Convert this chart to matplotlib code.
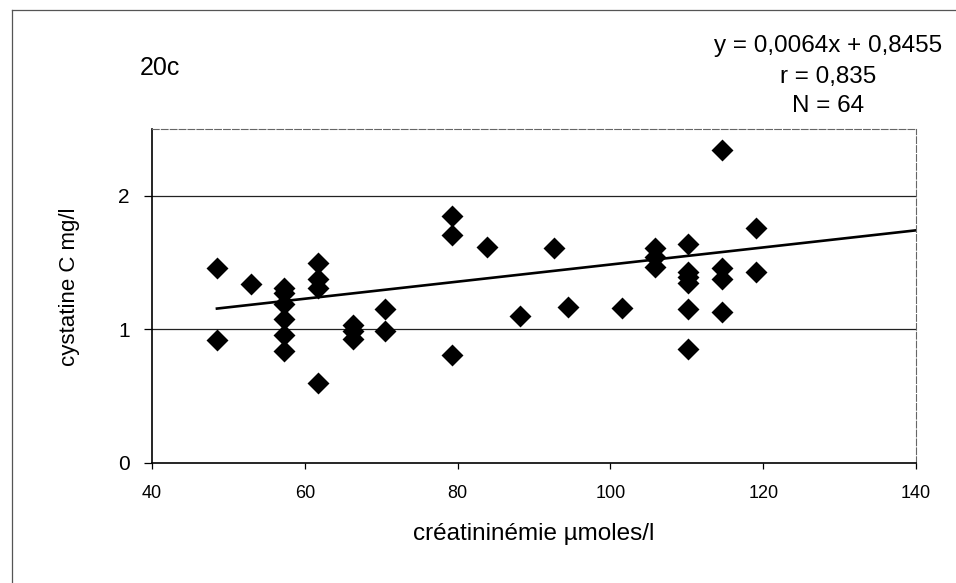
import matplotlib
matplotlib.use("Agg")
import matplotlib.pyplot as plt
from matplotlib.lines import Line2D
import numpy as np

plt.rcParams['font.family'] = ['Liberation Sans', 'DejaVu Sans']

# Data
creatinine = [48.5, 48.5, 52.9,
              57.3, 57.3, 57.3, 57.3, 57.3, 57.3,
              61.7, 61.7, 61.7, 61.7,
              66.3, 66.3, 66.3,
              70.5, 70.5,
              79.3, 79.3, 79.3,
              83.8, 88.2, 92.6, 94.4, 101.5,
              105.8, 105.8, 105.8,
              110.2, 110.2, 110.2, 110.2, 110.2, 110.2,
              114.6, 114.6, 114.6, 114.6,
              119.0, 119.0]
cystatin = [1.46, 0.92, 1.34,
            1.31, 1.27, 1.19, 1.08, 0.96, 0.84,
            1.50, 1.38, 1.31, 0.60,
            1.03, 0.99, 0.93,
            1.15, 0.99,
            1.85, 1.71, 0.81,
            1.62, 1.10, 1.61, 1.17, 1.16,
            1.61, 1.54, 1.47,
            1.64, 1.43, 1.39, 1.35, 1.15, 0.855,
            2.34, 1.46, 1.38, 1.13,
            1.76, 1.43]
slope = 0.0064
intercept = 0.8455
fit_x = [48.5, 140]
x_ticks = [40, 60, 80, 100, 120, 140]
y_ticks = [0, 1, 2]
eq_lines = ["y = 0,0064x + 0,8455", "r = 0,835", "N = 64"]
panel_label = "20c"
x_label = "créatininémie µmoles/l"
y_label = "cystatine C mg/l"

W, H = 956, 583
fig = plt.figure(figsize=(W / 100, H / 100), dpi=100)
ax = fig.add_axes([152 / W, 1 - 463 / H, (916 - 152) / W, (463 - 129) / H])

# outer chart frame (left and top edges visible)
fig.add_artist(Line2D([12 / W, 12 / W], [1 - 10 / H, 0], transform=fig.transFigure,
                      color='#555555', lw=0.9))
fig.add_artist(Line2D([12 / W, 1], [1 - 10 / H, 1 - 10 / H], transform=fig.transFigure,
                      color='#555555', lw=0.9))

for yv in y_ticks[1:]:
    ax.axhline(yv, color='#222222', lw=0.9, zorder=1)

ax.scatter(creatinine, cystatin, marker='D', s=125, color='black', zorder=3,
           linewidths=0)
fx = np.array(fit_x)
ax.plot(fx, slope * fx + intercept, color='black', lw=1.9, zorder=2)

ax.set_xlim(40, 140)
ax.set_ylim(0, 2.5)
ax.set_xticks(x_ticks)
ax.set_yticks(y_ticks)
ax.tick_params(axis='x', direction='out', length=4, width=0.9, pad=12, labelsize=13)
ax.tick_params(axis='y', direction='out', length=6, width=0.9, pad=10, labelsize=15)

for side in ['left', 'bottom']:
    ax.spines[side].set_color('black')
    ax.spines[side].set_linewidth(1.2)
for side in ['top', 'right']:
    ax.spines[side].set_color('#666666')
    ax.spines[side].set_linewidth(0.8)
    ax.spines[side].set_linestyle((0, (6, 2)))

ax.set_xlabel(x_label, fontsize=17.5)
ax.xaxis.set_label_coords(0.5, (463 - 534) / 334)
ax.xaxis.label.set_va('center')
ax.set_ylabel(y_label, fontsize=16)
ax.yaxis.set_label_coords((69 - 152) / 764, (463 - 287) / 334)
ax.yaxis.label.set_va('center')

fig.text(160 / W, 1 - 68 / H, panel_label, fontsize=18, ha='center', va='center')
for txt, yp in zip(eq_lines, [46, 77, 106]):
    fig.text(828 / W, 1 - yp / H, txt, fontsize=17.5, ha='center', va='center')

fig.savefig("out.png", dpi=100, facecolor='white')
